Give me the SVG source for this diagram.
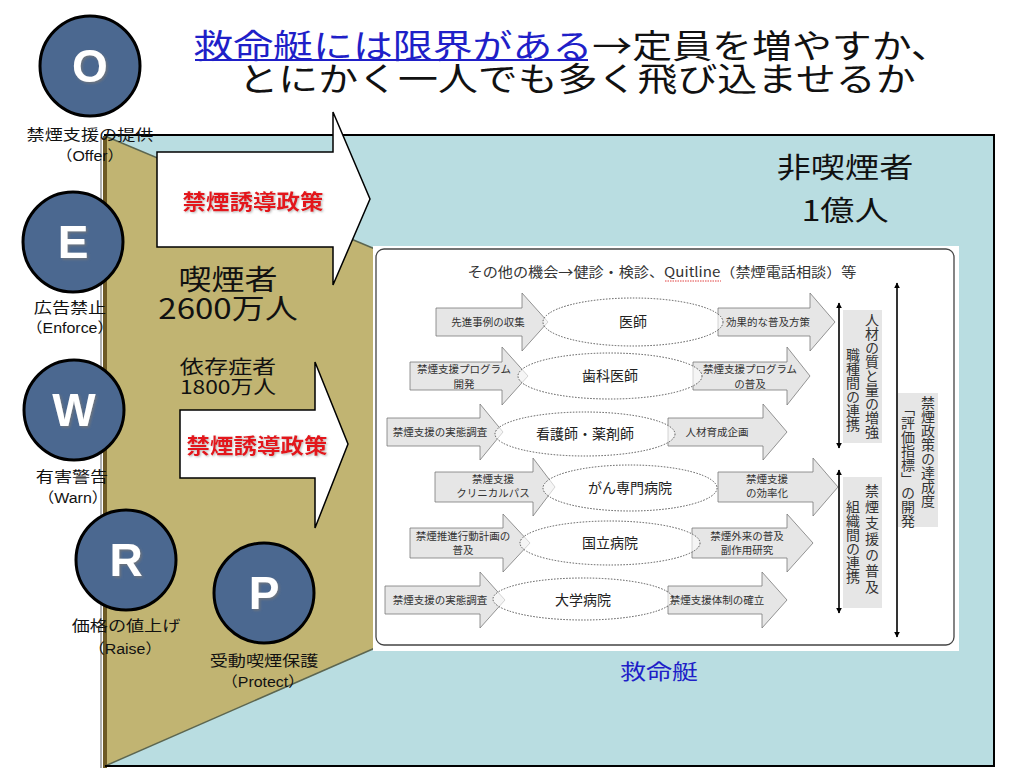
<svg xmlns="http://www.w3.org/2000/svg" width="1024" height="768" viewBox="0 0 1024 768">
<defs>
<style>
.jp{font-family:"Noto Sans CJK JP","Noto Sans",sans-serif;}
.lt{font-family:"Liberation Sans","Noto Sans CJK JP",sans-serif;}
.circ{fill:#4b6890;stroke:#000;stroke-width:3;}
.letter{font-family:"Liberation Sans",Arial,sans-serif;font-weight:bold;font-size:46px;fill:#fff;text-anchor:middle;}
.lbl{font-size:14.5px;fill:#111;text-anchor:middle;}
.big{fill:#fff;stroke:#000;stroke-width:1.5;}
.red{font-family:"Noto Sans CJK JP",sans-serif;font-size:21px;font-weight:bold;fill:#e3161b;text-anchor:middle;}
.ia{fill:#e6e6e6;stroke:#7a7a7a;stroke-width:0.8;}
.el{fill:#fff;fill-opacity:0.6;stroke:#555;stroke-width:1;stroke-dasharray:1.5 1.5;}
.it{font-family:"Noto Sans CJK JP",sans-serif;font-size:10.5px;fill:#333;text-anchor:middle;}
.nm{font-family:"Noto Sans CJK JP",sans-serif;font-size:14px;fill:#222;text-anchor:middle;}
.vbox{fill:#e6e6e6;}
.vt{font-family:"Noto Sans CJK JP",sans-serif;font-size:14px;fill:#333;writing-mode:vertical-rl;text-anchor:middle;}
.va{stroke:#000;stroke-width:1.6;fill:none;marker-start:url(#ah);marker-end:url(#ah);}
.bigt{font-family:"Noto Sans CJK JP",sans-serif;fill:#111;text-anchor:middle;}
</style>
<marker id="ah" viewBox="0 0 10 10" refX="9" refY="5" markerWidth="6" markerHeight="6" markerUnits="userSpaceOnUse" orient="auto-start-reverse">
<path d="M0,0 L10,5 L0,10 Z" fill="#000"/>
</marker>
<filter id="sh" x="-20%" y="-20%" width="140%" height="140%">
<feDropShadow dx="1.5" dy="1.5" stdDeviation="0.8" flood-color="#777" flood-opacity="0.8"/>
</filter>
<filter id="shr" x="-10%" y="-20%" width="120%" height="140%">
<feDropShadow dx="1" dy="1" stdDeviation="0.8" flood-color="#999" flood-opacity="0.7"/>
</filter>
</defs>

<rect x="0" y="0" width="1024" height="768" fill="#fff"/>

<!-- title -->
<g id="title" class="jp">
<text transform="matrix(1.21,0,0,1,572,58)" font-size="33" text-anchor="middle"><tspan fill="#1f1fc8">救命艇には限界がある</tspan><tspan fill="#111">→定員を増やすか、</tspan></text>
<line x1="195" y1="60" x2="588" y2="60" stroke="#1f1fc8" stroke-width="2"/>
<text transform="matrix(1.21,0,0,1,577,91)" font-size="33" text-anchor="middle" fill="#111">とにかく一人でも多く飛び込ませるか</text>
</g>

<!-- frame -->
<g id="frame">
<rect x="105" y="135" width="889" height="631" fill="#b9dde1"/>
<polygon points="105,136 375,249 375,648 105,766" fill="#c1b472"/>
<line x1="105" y1="136" x2="375" y2="249" stroke="#5c6650" stroke-width="1.5"/>
<line x1="375" y1="648" x2="105" y2="766" stroke="#5c6650" stroke-width="1.5"/>
<line x1="101" y1="137" x2="101" y2="768" stroke="#b0b0b0" stroke-width="2"/>
<line x1="105" y1="136" x2="105" y2="768" stroke="#6e5a25" stroke-width="4"/>
<path d="M104,135 H994 V766 H105" fill="none" stroke="#000" stroke-width="2"/>
</g>

<g id="label-nonsmoker">
<text class="bigt" transform="matrix(1.22,0,0,1,845,178)" font-size="28">非喫煙者</text>
<text class="bigt" transform="matrix(1.22,0,0,1,845,221)" font-size="28">1億人</text>
</g>

<g id="label-smoker">
<text class="bigt" transform="matrix(1.18,0,0,1,228,290)" font-size="28">喫煙者</text>
<text class="bigt" transform="matrix(1.18,0,0,1,228,319)" font-size="28">2600万人</text>
</g>

<g id="label-dependent">
<text class="bigt" transform="matrix(1.27,0,0,1,228,374)" font-size="19">依存症者</text>
<text class="bigt" transform="matrix(1.2,0,0,1,228,394)" font-size="19">1800万人</text>
</g>

<g id="lifeboat-label">
<text class="jp" transform="matrix(1.24,0,0,1,659,679)" font-size="21" fill="#1f1fc8" text-anchor="middle">救命艇</text>
</g>

<!-- big arrows -->
<g id="arrow-policy-1">
<path class="big" d="M157,152 H333 V112 L370,199 L333,285 V247 H157 Z"/>
<text class="red" filter="url(#shr)" transform="matrix(1.12,0,0,1,253,209)">禁煙誘導政策</text>
</g>
<g id="arrow-policy-2">
<path class="big" d="M180,410 H315 V362 L348,444 L315,528 V478 H180 Z"/>
<text class="red" filter="url(#shr)" transform="matrix(1.12,0,0,1,257,453)">禁煙誘導政策</text>
</g>

<!-- inner panel -->
<g id="panel">
<rect x="373" y="246" width="586" height="405" fill="#fff"/>
<rect x="376" y="249" width="578" height="396" rx="8" fill="#fff" stroke="#444" stroke-width="1.3"/>
<text class="jp" transform="matrix(1.12,0,0,1,662,277)" font-size="13.5" fill="#333" text-anchor="middle">その他の機会→健診・検診、Quitline（禁煙電話相談）等</text>
<line x1="665" y1="281" x2="721" y2="281" stroke="#e04040" stroke-width="1" stroke-dasharray="1.5 1"/>
</g>

<g id="row-1">
<path class="ia" d="M436,308 H522 V293 L548,322 L522,351 V336 H436 Z"/>
<path class="ia" d="M718,308 H810 V293 L835,322 L810,351 V336 H718 Z"/>
<ellipse class="el" cx="633" cy="322" rx="90" ry="24"/>
<text class="it" x="488" y="326">先進事例の収集</text>
<text class="it" x="768" y="326">効果的な普及方策</text>
<text class="nm" x="633" y="327">医師</text>
</g>

<g id="row-2">
<path class="ia" d="M410,362 H502 V347 L528,376 L502,405 V390 H410 Z"/>
<path class="ia" d="M693,362 H787 V347 L810,376 L787,405 V390 H693 Z"/>
<ellipse class="el" cx="610" cy="376" rx="92" ry="23"/>
<text class="it" x="464" y="373">禁煙支援プログラム</text>
<text class="it" x="464" y="388">開発</text>
<text class="it" x="750" y="373">禁煙支援プログラム</text>
<text class="it" x="750" y="388">の普及</text>
<text class="nm" x="610" y="381">歯科医師</text>
</g>

<g id="row-3">
<path class="ia" d="M387,418 H480 V404 L503,432 L480,460 V446 H387 Z"/>
<path class="ia" d="M668,418 H763 V404 L787,432 L763,460 V446 H668 Z"/>
<ellipse class="el" cx="585" cy="434" rx="90" ry="22"/>
<text class="it" x="440" y="436">禁煙支援の実態調査</text>
<text class="it" x="717" y="436">人材育成企画</text>
<text class="nm" x="585" y="439">看護師・薬剤師</text>
</g>

<g id="row-4">
<path class="ia" d="M435,472 H533 V458 L555,487 L533,516 V502 H435 Z"/>
<path class="ia" d="M718,472 H813 V458 L838,487 L813,516 V502 H718 Z"/>
<ellipse class="el" cx="630" cy="488" rx="87" ry="23"/>
<text class="it" x="493" y="483">禁煙支援</text>
<text class="it" x="493" y="497">クリニカルパス</text>
<text class="it" x="767" y="483">禁煙支援</text>
<text class="it" x="767" y="497">の効率化</text>
<text class="nm" x="630" y="493">がん専門病院</text>
</g>

<g id="row-5">
<path class="ia" d="M410,528 H503 V514 L530,543 L503,572 V558 H410 Z"/>
<path class="ia" d="M692,528 H787 V514 L813,543 L787,572 V558 H692 Z"/>
<ellipse class="el" cx="610" cy="543" rx="90" ry="22"/>
<text class="it" x="463" y="540">禁煙推進行動計画の</text>
<text class="it" x="463" y="554">普及</text>
<text class="it" x="747" y="540">禁煙外来の普及</text>
<text class="it" x="747" y="554">副作用研究</text>
<text class="nm" x="610" y="548">国立病院</text>
</g>

<g id="row-6">
<path class="ia" d="M385,586 H480 V572 L505,600 L480,628 V614 H385 Z"/>
<path class="ia" d="M668,586 H762 V572 L787,600 L762,628 V614 H668 Z"/>
<ellipse class="el" cx="583" cy="599" rx="90" ry="21"/>
<text class="it" x="440" y="604">禁煙支援の実態調査</text>
<text class="it" x="717" y="604">禁煙支援体制の確立</text>
<text class="nm" x="583" y="605">大学病院</text>
</g>

<g id="side-box-1">
<rect class="vbox" x="843" y="310" width="39" height="133"/>
<text class="vt" x="872" y="376">人材の質と量の増強</text>
<text class="vt" x="853" y="390">職種間の連携</text>
</g>
<g id="side-box-2">
<rect class="vbox" x="843" y="477" width="39" height="131"/>
<text class="vt" x="872" y="540" letter-spacing="2">禁煙支援の普及</text>
<text class="vt" x="853" y="542">組織間の連携</text>
</g>
<g id="side-box-3">
<rect class="vbox" x="898" y="393" width="40" height="134"/>
<text class="vt" x="928" y="452">禁煙政策の達成度</text>
<text class="vt" x="908" y="465">「評価指標」の開発</text>
</g>

<g id="connectors">
<line class="va" x1="839" y1="303" x2="839" y2="448"/>
<line class="va" x1="839" y1="470" x2="839" y2="613"/>
<line class="va" x1="897" y1="283" x2="897" y2="637"/>
</g>

<!-- circles -->
<g id="node-O">
<circle class="circ" cx="90" cy="66" r="50"/>
<text class="letter" x="90" y="82" filter="url(#sh)">O</text>
<text class="lt lbl" transform="matrix(1.25,0,0,1,90,140)">禁煙支援の提供</text>
<text class="lt lbl" transform="matrix(1.1,0,0,1,90,161)">（Offer）</text>
</g>
<g id="node-E">
<circle class="circ" cx="73" cy="242" r="50"/>
<text class="letter" x="73" y="258" filter="url(#sh)">E</text>
<text class="lt lbl" transform="matrix(1.25,0,0,1,70,313)">広告禁止</text>
<text class="lt lbl" transform="matrix(1.1,0,0,1,70,333)">（Enforce）</text>
</g>
<g id="node-W">
<circle class="circ" cx="74" cy="410" r="50"/>
<text class="letter" x="74" y="426" filter="url(#sh)">W</text>
<text class="lt lbl" transform="matrix(1.25,0,0,1,72,482)">有害警告</text>
<text class="lt lbl" transform="matrix(1.1,0,0,1,73,503)">（Warn）</text>
</g>
<g id="node-R">
<circle class="circ" cx="126" cy="560" r="50"/>
<text class="letter" x="126" y="576" filter="url(#sh)">R</text>
<text class="lt lbl" transform="matrix(1.25,0,0,1,126,631)">価格の値上げ</text>
<text class="lt lbl" transform="matrix(1.1,0,0,1,125,654)">（Raise）</text>
</g>
<g id="node-P">
<circle class="circ" cx="264" cy="593" r="50"/>
<text class="letter" x="264" y="609" filter="url(#sh)">P</text>
<text class="lt lbl" transform="matrix(1.25,0,0,1,264,666)">受動喫煙保護</text>
<text class="lt lbl" transform="matrix(1.1,0,0,1,263,687)">（Protect）</text>
</g>
</svg>
